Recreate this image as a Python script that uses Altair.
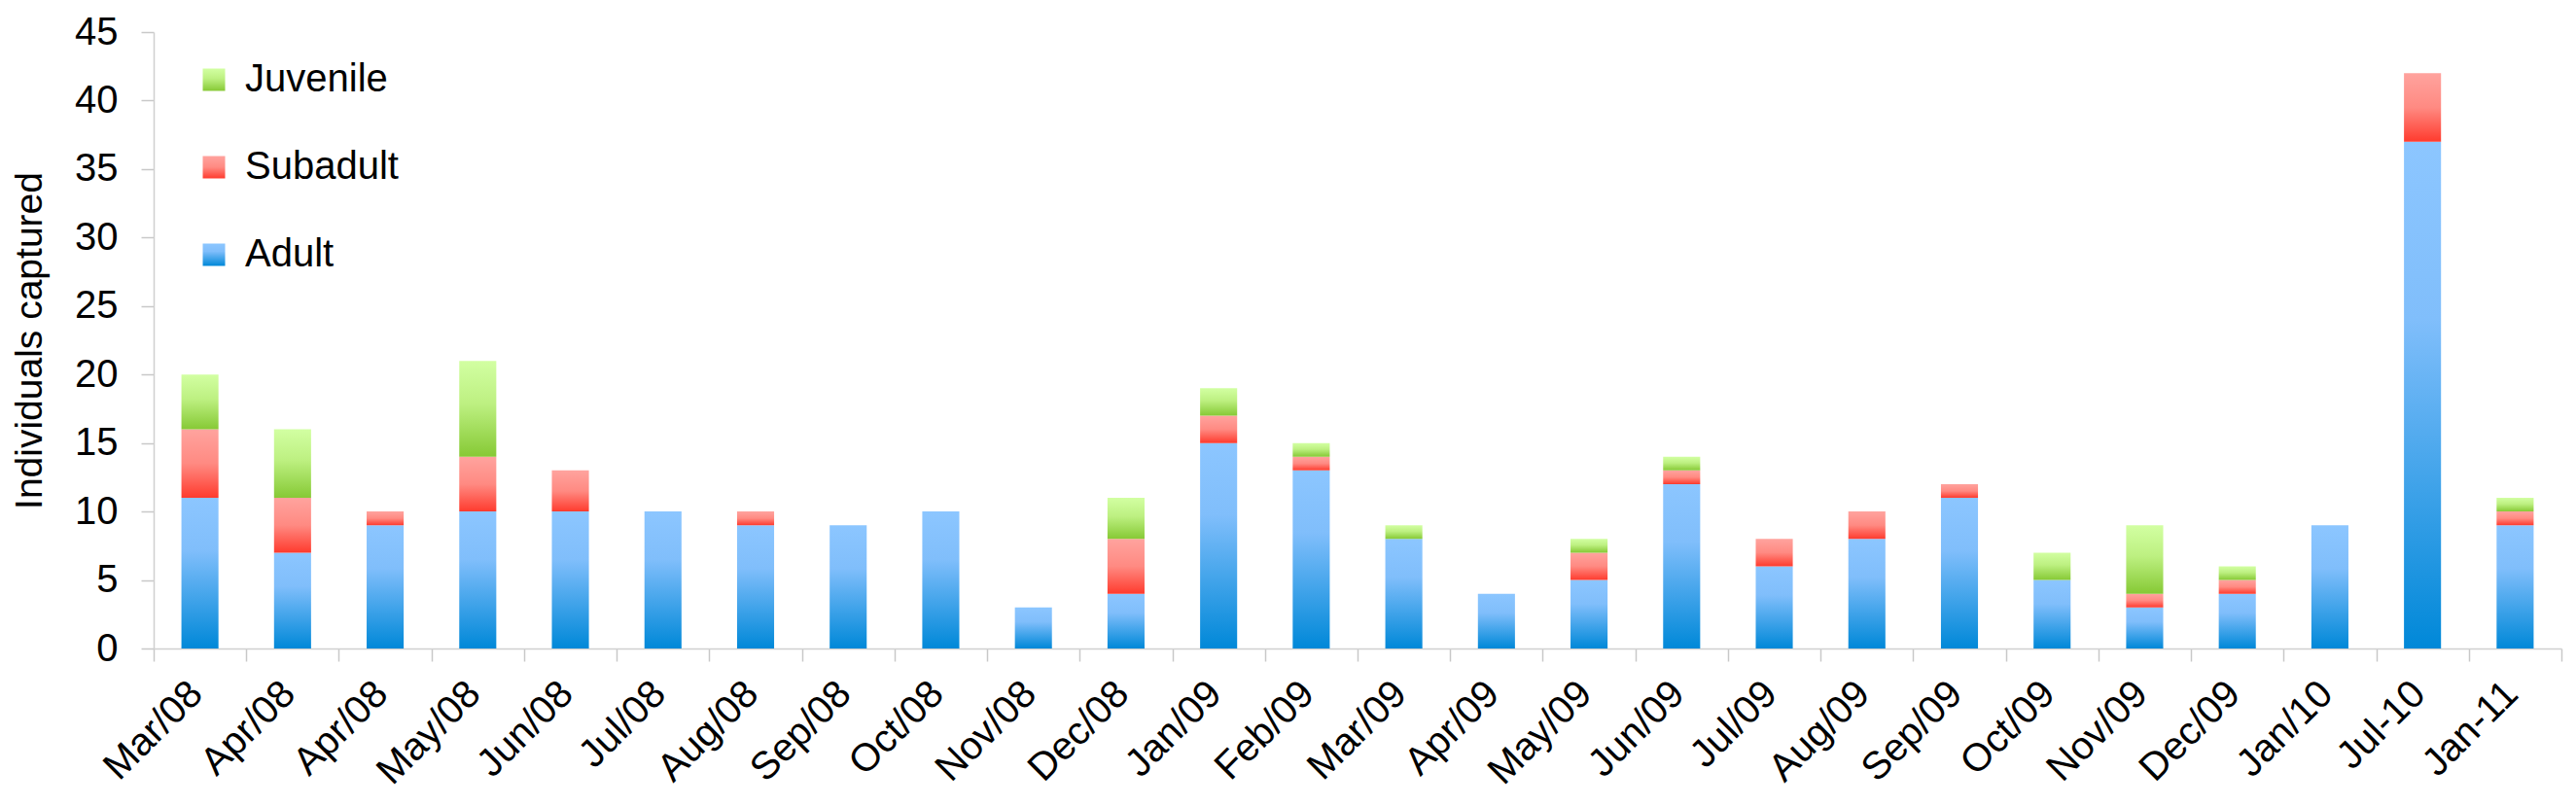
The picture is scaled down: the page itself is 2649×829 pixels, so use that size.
import altair as alt
import pandas as pd

months = ["Mar/08", "Apr/08", "Apr/08", "May/08", "Jun/08", "Jul/08", "Aug/08",
          "Sep/08", "Oct/08", "Nov/08", "Dec/08", "Jan/09", "Feb/09", "Mar/09",
          "Apr/09", "May/09", "Jun/09", "Jul/09", "Aug/09", "Sep/09", "Oct/09",
          "Nov/09", "Dec/09", "Jan/10", "Jul-10", "Jan-11"]
adult = [11, 7, 9, 10, 10, 10, 9, 9, 10, 3, 4, 15, 13, 8, 4, 5, 12, 6, 8, 11, 5, 3, 4, 9, 37, 9]
subadult = [5, 4, 1, 4, 3, 0, 1, 0, 0, 0, 4, 2, 1, 0, 0, 2, 1, 2, 2, 1, 0, 1, 1, 0, 5, 1]
juvenile = [4, 5, 0, 7, 0, 0, 0, 0, 0, 0, 3, 2, 1, 1, 0, 1, 1, 0, 0, 0, 2, 5, 1, 0, 0, 1]

stages = ["Juvenile", "Subadult", "Adult"]
stage_order = {"Adult": 0, "Subadult": 1, "Juvenile": 2}

rows = []
for i, m in enumerate(months):
    key = "%02d|%s" % (i, m)
    for stage, vals in (("Adult", adult), ("Subadult", subadult), ("Juvenile", juvenile)):
        rows.append({"key": key, "stage": stage, "count": vals[i], "ord": stage_order[stage]})
df = pd.DataFrame(rows)


def grad(stops):
    s = ",".join("{offset:%s,color:'%s'}" % (o, c) for o, c in stops)
    return {"expr": "{gradient:'linear',x1:0,y1:0,x2:0,y2:1,stops:[" + s + "]}"}


green = grad([(0, "#d2ffa2"), (0.45, "#bdf081"), (1, "#86c935")])
red = grad([(0, "#ffa39e"), (0.5, "#ff8a82"), (1, "#ff3b2e")])
blue = grad([(0, "#8cc6ff"), (0.35, "#80befb"), (1, "#0088d8")])

FONT = "Liberation Sans"

chart = alt.Chart(df).mark_bar(width=alt.RelativeBandSize(0.4)).encode(
    x=alt.X("key:O", sort=None,
            scale=alt.Scale(paddingInner=0, paddingOuter=0),
            axis=alt.Axis(title=None, labelAngle=-45, labelAlign="right",
                          labelBaseline="middle", labelFontSize=40, labelFont=FONT,
                          labelColor="#000000", labelExpr="split(datum.value,'|')[1]",
                          tickBand="extent", tickSize=13, tickColor="#c8c8c8",
                          domainColor="#d0d0d0", domainWidth=1.5, tickWidth=1.5,
                          labelPadding=27, labelOffset=-4, labelOverlap=False)),
    y=alt.Y("count:Q", stack="zero",
            scale=alt.Scale(domain=[0, 45], nice=False),
            axis=alt.Axis(title="Individuals captured", values=list(range(0, 46, 5)),
                          grid=False, tickSize=13, tickColor="#c8c8c8", tickWidth=1.5,
                          domainColor="#d0d0d0", domainWidth=1.5,
                          labelFontSize=40, labelFont=FONT, labelColor="#000000",
                          labelPadding=24, titleFontSize=39, titleFont=FONT,
                          titleFontWeight="normal", titleColor="#000000",
                          titlePadding=26)),
    color=alt.Color("stage:N",
                    scale=alt.Scale(domain=stages, range=[green, red, blue]),
                    legend=alt.Legend(title=None, orient="none", legendX=42, legendY=29,
                                      symbolType="square", symbolSize=529,
                                      symbolStrokeWidth=0, labelFontSize=40,
                                      labelFont=FONT, labelColor="#000000",
                                      labelOffset=12, rowPadding=50)),
    order=alt.Order("ord:Q", sort="ascending"),
).properties(
    width=2476, height=634,
    autosize=alt.AutoSizeParams(type="none"),
    padding={"left": 150, "top": 25, "right": 7, "bottom": 162},
    background="#ffffff",
).configure_view(stroke=None)

chart.save("out.html", embed_options={"renderer": "svg", "actions": False})
